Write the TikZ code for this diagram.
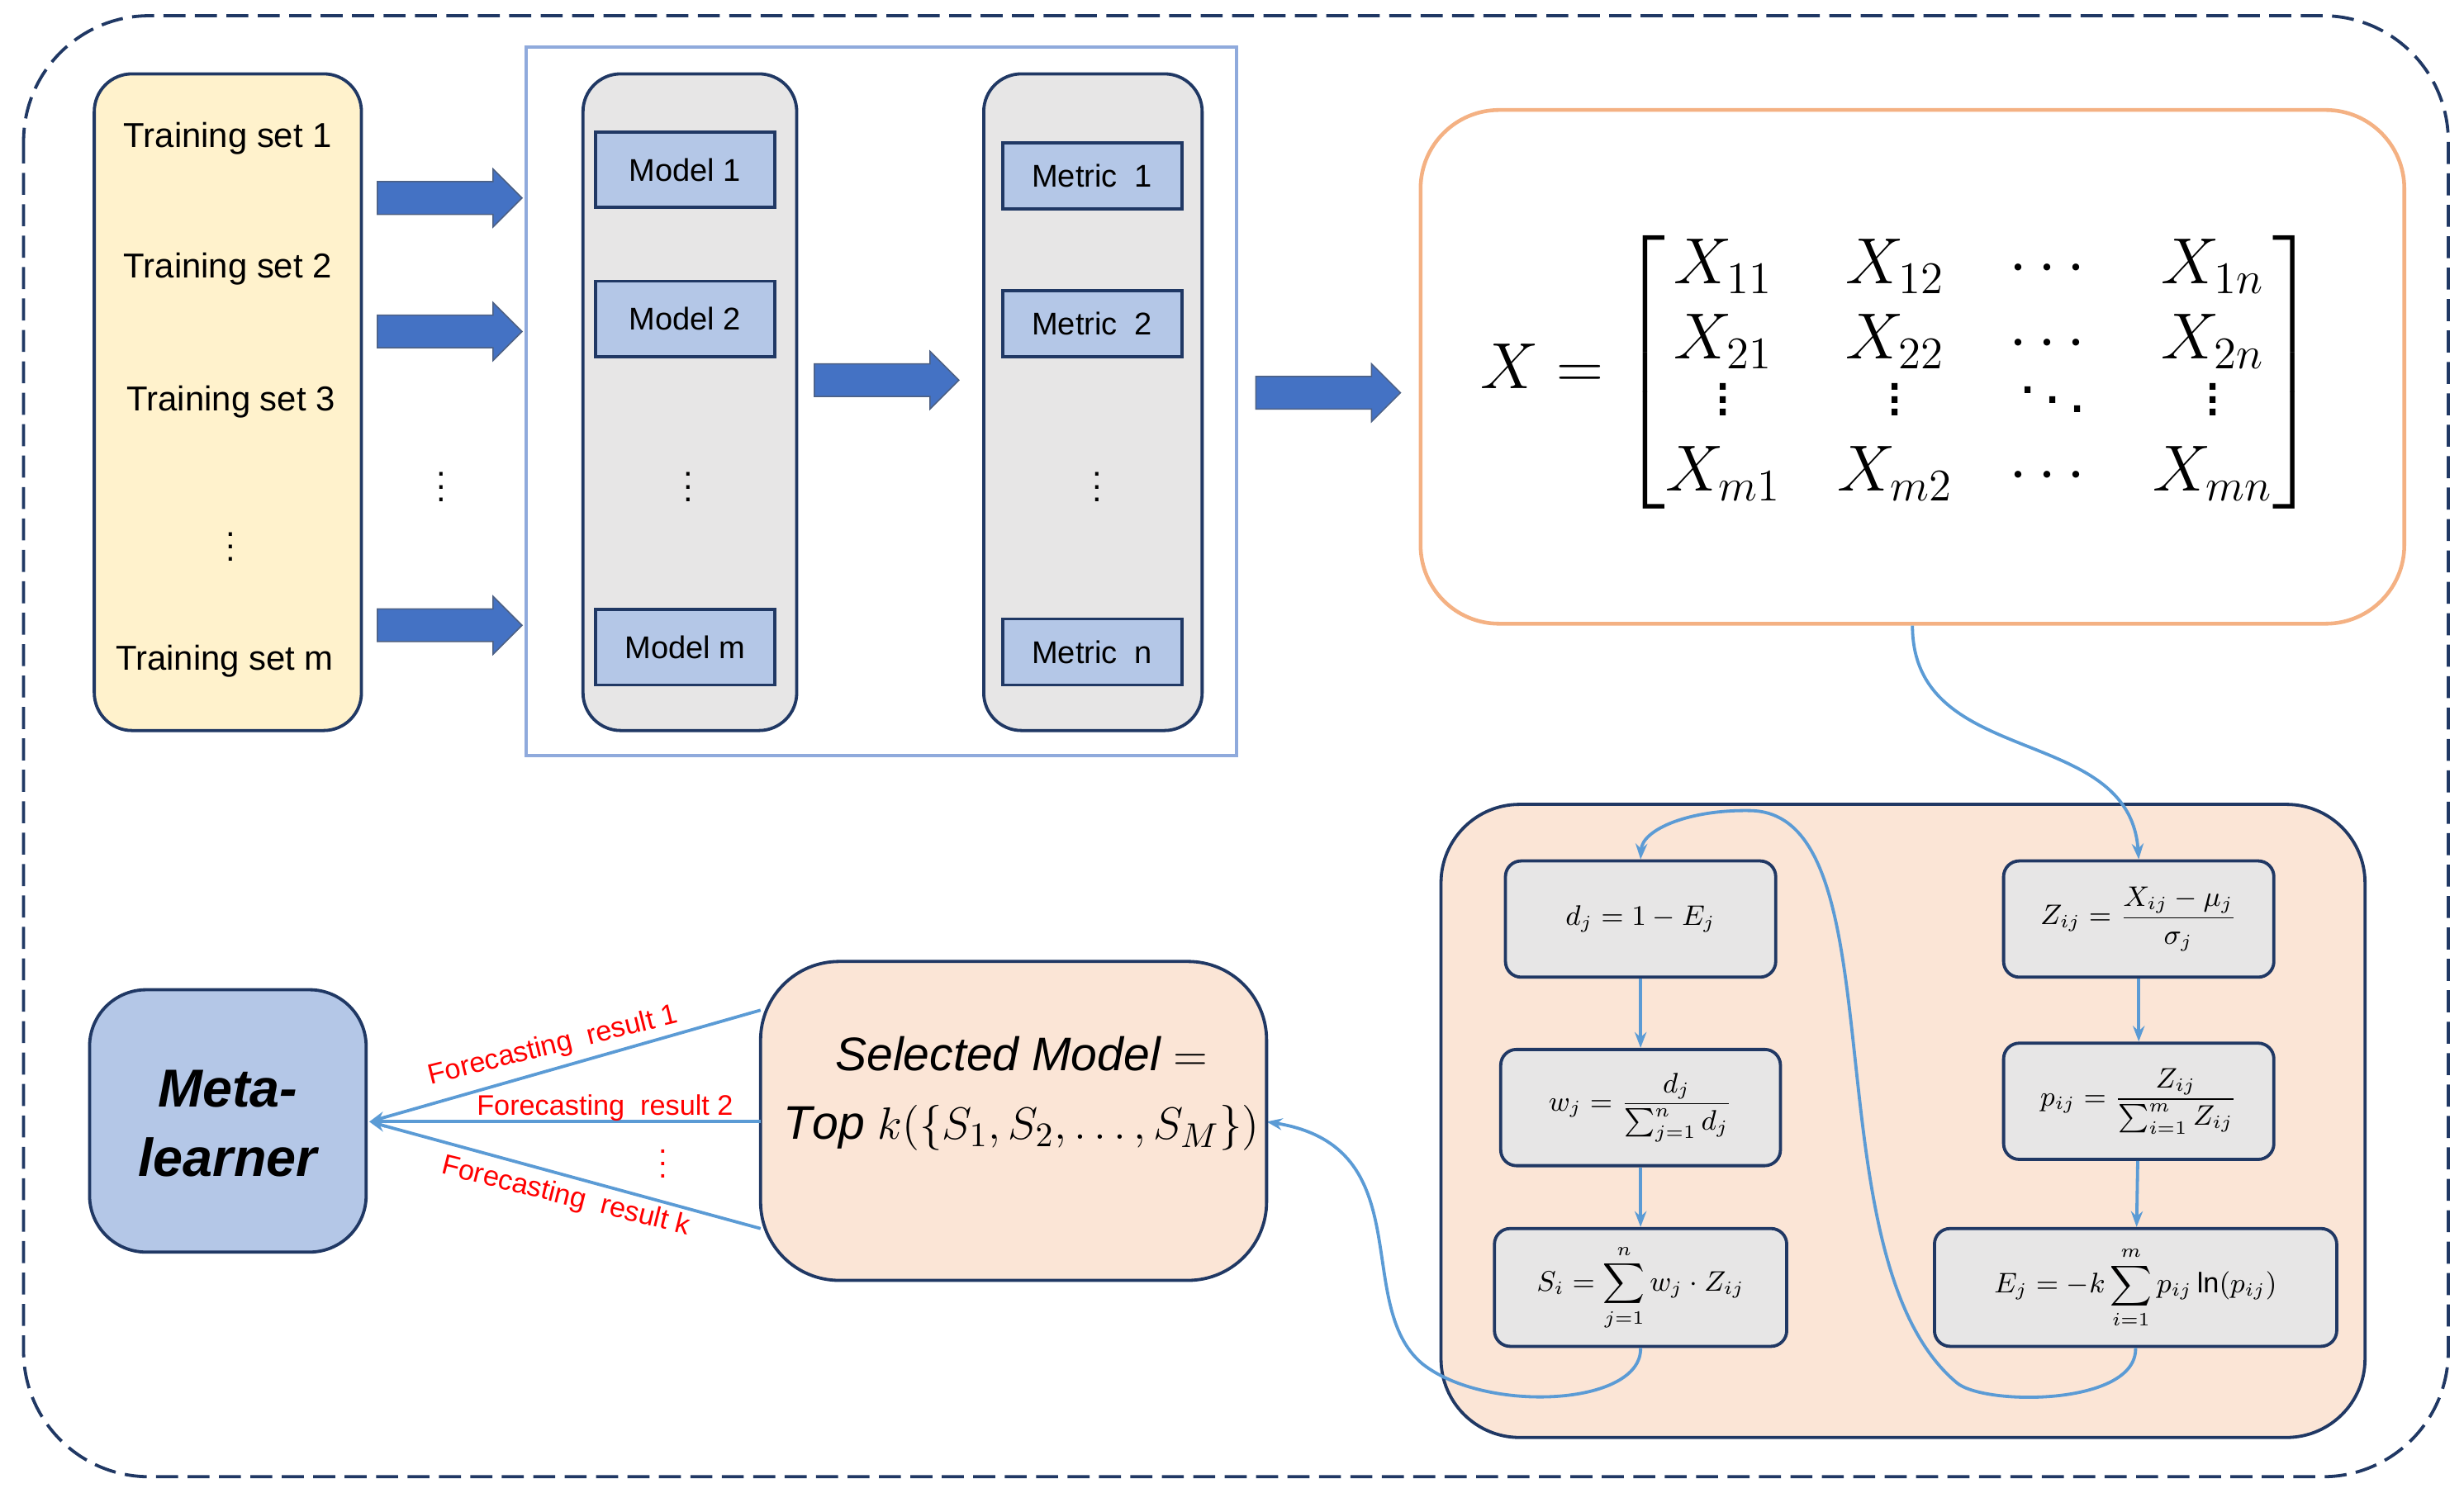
\documentclass[tikz,border=0pt]{standalone}
\usepackage{fontspec}
\usepackage{amsmath}
\setmainfont{Liberation Sans}
\usetikzlibrary{shapes.arrows,fit,arrows.meta}
\definecolor{navy}{HTML}{203864}
\definecolor{yel}{HTML}{FFF2CC}
\definecolor{gr}{HTML}{E7E6E6}
\definecolor{bl}{HTML}{B4C7E7}
\definecolor{lb}{HTML}{8FAADC}
\definecolor{pe}{HTML}{FBE5D6}
\definecolor{or}{HTML}{F4B183}
\definecolor{ab}{HTML}{4472C4}
\definecolor{cb}{HTML}{5B9BD5}
\begin{document}
\begin{tikzpicture}[x=0.5pt,y=-0.5pt,
 box/.style={draw=navy,line width=1pt,inner sep=0pt},
 rbox/.style={box,rounded corners=12pt},
 sm/.style={box,fill=bl},
 fb/.style={box,fill=gr,rounded corners=5pt},
 smt/.style={font=\fontsize{10}{12}\selectfont},
 ft/.style={font=\fontsize{9}{11}\selectfont},
 bar/.style={single arrow,draw=navy!80,fill=ab,minimum width=18pt,minimum height=46pt,inner xsep=0pt,inner ysep=5pt,single arrow head extend=4pt},
 ca/.style={draw=cb,line width=1pt,-{Stealth[length=5pt]}},
 t/.style={font=\fontsize{11}{13}\selectfont},
 red/.style={text=red,font=\fontsize{9}{11}\selectfont}]
\useasboundingbox (0,0) rectangle (1568,950);
\draw[navy,dash pattern=on 7pt off 3pt,line width=1pt,rounded corners=40pt] (15,10) rectangle (1558,940);
% training
\node[rbox,fill=yel,fit={(60,47) (230,465)}] (tr) {};
\node[t] (t1) at (145,88) {Training set 1};
\node[t] (t2) at (145,171) {Training set 2};
\node[t] (t3) at (147,256) {Training set 3};
\node[t] (tv) at (147,342) {$\vdots$};
\node[t] (tm) at (143,421) {Training set m};
\node[bar] (a1) at (281,126) {};
\node[bar] (a2) at (281,211) {};
\node[bar] (a3) at (281,398) {};
\node[t] (av) at (281,304) {$\vdots$};
% blue frame
\node[draw=lb,line width=1pt,inner sep=0pt,fit={(335,30) (787,481)}] (frame) {};
\node[rbox,fill=gr,fit={(371,47) (507,465)}] (mc) {};
\node[sm,fit={(379,84) (493,132)}] (m1) {};
\node[smt] at (m1.center) {Model 1};
\node[sm,fit={(379,179) (493,227)}] (m2) {};
\node[smt] at (m2.center) {Model 2};
\node[t] (mv) at (438,304) {$\vdots$};
\node[sm,fit={(379,388) (493,436)}] (mm) {};
\node[smt] at (mm.center) {Model m};
\node[bar] (a4) at (559,242) {};
\node[rbox,fill=gr,fit={(626,47) (765,465)}] (kc) {};
\node[sm,fit={(638,91) (752,133)}] (k1) {};
\node[smt] at (k1.center) {Metric\ \ 1};
\node[sm,fit={(638,185) (752,227)}] (k2) {};
\node[smt] at (k2.center) {Metric\ \ 2};
\node[t] (kv) at (698,304) {$\vdots$};
\node[sm,fit={(638,394) (752,436)}] (kn) {};
\node[smt] at (kn.center) {Metric\ \ n};
\node[bar] (a5) at (840,250) {};
% matrix
\node[draw=or,line width=1.2pt,rounded corners=25pt,fill=white,inner sep=0pt,fit={(904,70) (1530,397)}] (mat) {};
\node[font=\fontsize{20}{24}\selectfont] (X) at (1208,237) {\setlength\arraycolsep{9pt}$X=\left[\begin{matrix} X_{11} & X_{12} & \cdots & X_{1n}\\ X_{21} & X_{22} & \cdots & X_{2n}\\[-6pt] \vdots & \vdots & \ddots & \vdots\\ X_{m1} & X_{m2} & \cdots & X_{mn}\end{matrix}\right]$};
% entropy box
\node[box,fill=pe,rounded corners=25pt,fit={(917,512) (1505,915)}] (ent) {};
\node[fb,fit={(958,548) (1130,622)}] (d) {};
\node[ft] at (d.center) {$d_j=1-E_j$};
\node[fb,fit={(955,668) (1133,742)}] (w) {};
\node[ft] at (w.center) {$w_j=\dfrac{d_j}{\sum_{j=1}^{n} d_j}$};
\node[fb,fit={(951,782) (1137,857)}] (S) {};
\node[ft] at (S.center) {$S_i=\displaystyle\sum_{j=1}^{n} w_j\cdot Z_{ij}$};
\node[fb,fit={(1275,548) (1447,622)}] (Z) {};
\node[ft] at (Z.center) {$Z_{ij}=\dfrac{X_{ij}-\mu_j}{\sigma_j}$};
\node[fb,fit={(1275,664) (1447,738)}] (p) {};
\node[ft] at (p.center) {$p_{ij}=\dfrac{Z_{ij}}{\sum_{i=1}^{m} Z_{ij}}$};
\node[fb,fit={(1231,782) (1487,857)}] (E) {};
\node[ft] at (E.center) {$E_j=-k\displaystyle\sum_{i=1}^{m} p_{ij}\ln(p_{ij})$};
\draw[ca] (d) -- (w);
\draw[ca] (w) -- (S);
\draw[ca] (Z) -- (p);
\draw[ca] (p) -- (E);
\draw[ca] (mat.south) .. controls (1217,490) and (1355,460) .. (Z.north);
\draw[ca] (E.south) .. controls (1360,895) and (1262,895) .. (1245,880) .. controls (1150,800) and (1210,520) .. (1115,516) .. controls (1075,515) and (1045,528) .. (d.north);
\draw[ca] (S.south) .. controls (1045,895) and (945,900) .. (905,868) .. controls (860,830) and (905,730) .. (806,714);
% selected
\node[box,fill=pe,rounded corners=25pt,fit={(484,612) (806,815)}] (sel) {};
\node[font=\fontsize{15}{22}\selectfont,align=center] (selt) at (650,696) {$\mathit{Selected\ Model}=$\\ $\mathit{Top}\ k(\{S_1,S_2,\ldots,S_M\})$};
\node[box,fill=bl,rounded corners=18pt,fit={(57,630) (233,797)}] (meta) {};
\node[font=\bfseries\itshape\fontsize{17}{22}\selectfont,align=center] (metat) at (145,715) {Meta-\\learner};
\coordinate (s1) at (484,643);
\coordinate (s2) at (484,714);
\coordinate (s3) at (484,782);
\draw[ca] (s1) -- (235,714);
\draw[ca] (s2) -- (235,714);
\draw[ca] (s3) -- (235,714);
\node[red,rotate=14] (r1) at (352,666) {Forecasting\ \ result 1};
\node[red] (r2) at (385,705) {Forecasting\ \ result 2};
\node[red,rotate=-14] (r3) at (360,762) {Forecasting\ \ result k};
\node[text=red] (rv) at (422,735) {$\vdots$};
\end{tikzpicture}
\end{document}
